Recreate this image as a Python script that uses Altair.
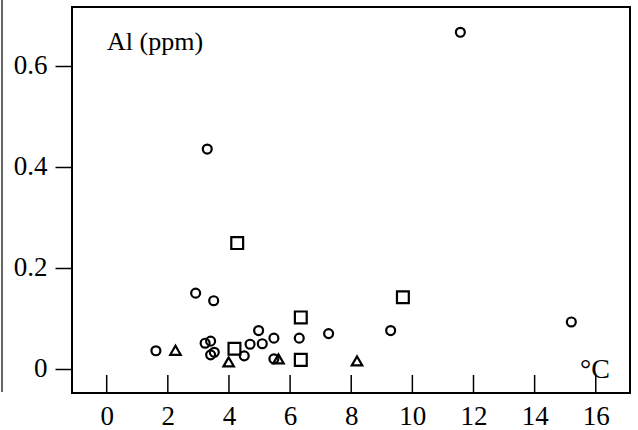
import altair as alt
import pandas as pd

# Data
circle_x = [1.61, 2.91, 3.50, 3.22, 3.40, 3.40, 3.52, 4.50, 4.69, 4.97, 5.09, 5.47, 5.47, 6.30, 3.29, 7.26, 9.29, 15.20, 11.57]
circle_y = [0.036, 0.150, 0.135, 0.051, 0.055, 0.028, 0.033, 0.026, 0.049, 0.076, 0.050, 0.061, 0.020, 0.061, 0.435, 0.070, 0.076, 0.093, 0.666]
square_x = [4.27, 6.35, 4.18, 6.35, 9.69]
square_y = [0.249, 0.102, 0.040, 0.018, 0.142]
triangle_x = [2.25, 3.99, 5.62, 8.19]
triangle_y = [0.037, 0.014, 0.020, 0.016]

x_ticks = [0, 2, 4, 6, 8, 10, 12, 14, 16]
y_ticks = [0, 0.2, 0.4, 0.6]
title_text = "Al (ppm)"
unit_text = "°C"

FONT = "Liberation Serif"

rows = []
for x, y in zip(circle_x, circle_y):
    rows.append({"T": x, "Al": y, "kind": "circle"})
for x, y in zip(square_x, square_y):
    rows.append({"T": x, "Al": y, "kind": "square"})
for x, y in zip(triangle_x, triangle_y):
    rows.append({"T": x, "Al": y, "kind": "triangle-up"})
df = pd.DataFrame(rows)

xscale = alt.Scale(domain=[-1.135, 17.12], nice=False, zero=False)
yscale = alt.Scale(domain=[-0.0475, 0.716], nice=False, zero=False)

def pts(kind, size):
    return alt.Chart(df[df["kind"] == kind]).mark_point(
        shape=kind, filled=False, color="black", strokeWidth=2.2, size=size, opacity=1
    ).encode(
        x=alt.X("T:Q", scale=xscale,
                axis=alt.Axis(values=x_ticks, tickSize=0, domain=False, grid=False,
                              labelFont=FONT, labelFontSize=27, labelColor="black",
                              labelPadding=10, title=None, format="d")),
        y=alt.Y("Al:Q", scale=yscale,
                axis=alt.Axis(values=y_ticks, tickSize=17, tickWidth=1.5, tickColor="black",
                              domain=False, grid=False, labelFont=FONT, labelFontSize=27,
                              labelColor="black", labelPadding=8, title=None,
                              labelExpr="datum.value == 0 ? '0' : format(datum.value, '.1f')")),
    )

circles = pts("circle", 80)
squares = pts("square", 140)
triangles = pts("triangle-up", 110)

xt = pd.DataFrame({"T": x_ticks})
xtick_rules = alt.Chart(xt).mark_rule(color="black", strokeWidth=1.5).encode(
    x=alt.X("T:Q", scale=xscale),
    y=alt.value(368),
    y2=alt.value(386),
)

title = alt.Chart(pd.DataFrame({"t": [title_text]})).mark_text(
    font=FONT, fontSize=26, align="left", baseline="alphabetic", color="black"
).encode(x=alt.value(35), y=alt.value(43), text="t:N")

unit = alt.Chart(pd.DataFrame({"t": [unit_text]})).mark_text(
    font=FONT, fontSize=28, align="left", baseline="alphabetic", color="black"
).encode(x=alt.value(508), y=alt.value(371), text="t:N")

edge = alt.Chart(pd.DataFrame({"a": [0]})).mark_rule(color="#333", strokeWidth=1.5).encode(
    x=alt.value(-70), y=alt.value(-7), y2=alt.value(385)
)

chart = alt.layer(xtick_rules, circles, squares, triangles, title, unit, edge).properties(
    width=558, height=386,
    padding={"left": 72, "top": 7, "right": 8, "bottom": 37},
    autosize=alt.AutoSizeParams(type="none"),
    background="white",
).configure_view(
    stroke="black", strokeWidth=2
)

chart.save("out.html", embed_options={"renderer": "svg", "actions": False})
